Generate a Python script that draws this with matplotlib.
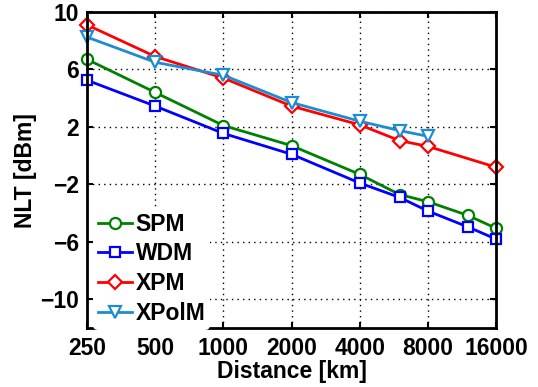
import numpy as np
import matplotlib
matplotlib.use("Agg")
import matplotlib.pyplot as plt

plt.rcParams['font.family'] = ['Liberation Sans', 'DejaVu Sans']
plt.rcParams['font.weight'] = 'bold'

dist = [250, 500, 1000, 2000, 4000, 6000, 8000, 12000, 16000]
spm = [6.7, 4.4, 2.1, 0.7, -1.3, -2.7, -3.2, -4.15, -5.05]
wdm = [5.25, 3.45, 1.55, 0.1, -1.9, -2.9, -3.85, -4.95, -5.8]
xpm_dist = [250, 500, 1000, 2000, 4000, 6000, 8000, 16000]
xpm = [9.1, 6.9, 5.4, 3.45, 2.15, 1.05, 0.65, -0.8]
xpolm_dist = [250, 500, 1000, 2000, 4000, 6000, 8000]
xpolm = [8.25, 6.5, 5.6, 3.7, 2.4, 1.75, 1.35]

xticks = [250, 500, 1000, 2000, 4000, 8000, 16000]
yticks = [-10, -6, -2, 2, 6, 10]

fig = plt.figure(figsize=(5.38, 3.87), dpi=100)
ax = fig.add_axes([0.162, 0.152, 0.76, 0.817])

kw = dict(lw=2, mfc='white', mew=1.6, clip_on=False, zorder=3)
ax.plot(dist, spm, '-o', color='#008000', label='SPM', ms=8, **kw)
ax.plot(dist, wdm, '-s', color='#0000ff', label='WDM', ms=7, **kw)
ax.plot(xpm_dist, xpm, '-D', color='#ff0000', label='XPM', ms=7, **kw)
ax.plot(xpolm_dist, xpolm, '-v', color='#1e8cd2', label='XPolM', ms=8, **kw)

ax.set_xscale('log', base=2)
ax.set_xlim(250, 16000)
ax.set_ylim(-12, 10)
ax.set_xticks(xticks)
ax.set_xticklabels([str(t) for t in xticks])
ax.minorticks_off()
ax.set_yticks(yticks)
ax.tick_params(direction='in', length=4, width=1.5, labelsize=16.5, top=True, right=True, pad=6)
ax.grid(True, color='black', linestyle=(0, (1, 3)), linewidth=1)
for s in ax.spines.values():
    s.set_linewidth(2)
    s.set_zorder(4)

ax.set_xlabel('Distance [km]', fontsize=16.5, fontweight='bold', labelpad=0)
ax.set_ylabel('NLT [dBm]', fontsize=16.5, fontweight='bold', labelpad=2)

leg = ax.legend(loc='lower left', bbox_to_anchor=(0.015, -0.005), frameon=True,
                fontsize=16.5, handlelength=1.5, borderaxespad=0.0,
                labelspacing=0.3, handletextpad=0.15, borderpad=0.2)
leg.get_frame().set_edgecolor('none')
leg.get_frame().set_alpha(1)
leg.set_zorder(5)

fig.savefig('out.png', dpi=100)
